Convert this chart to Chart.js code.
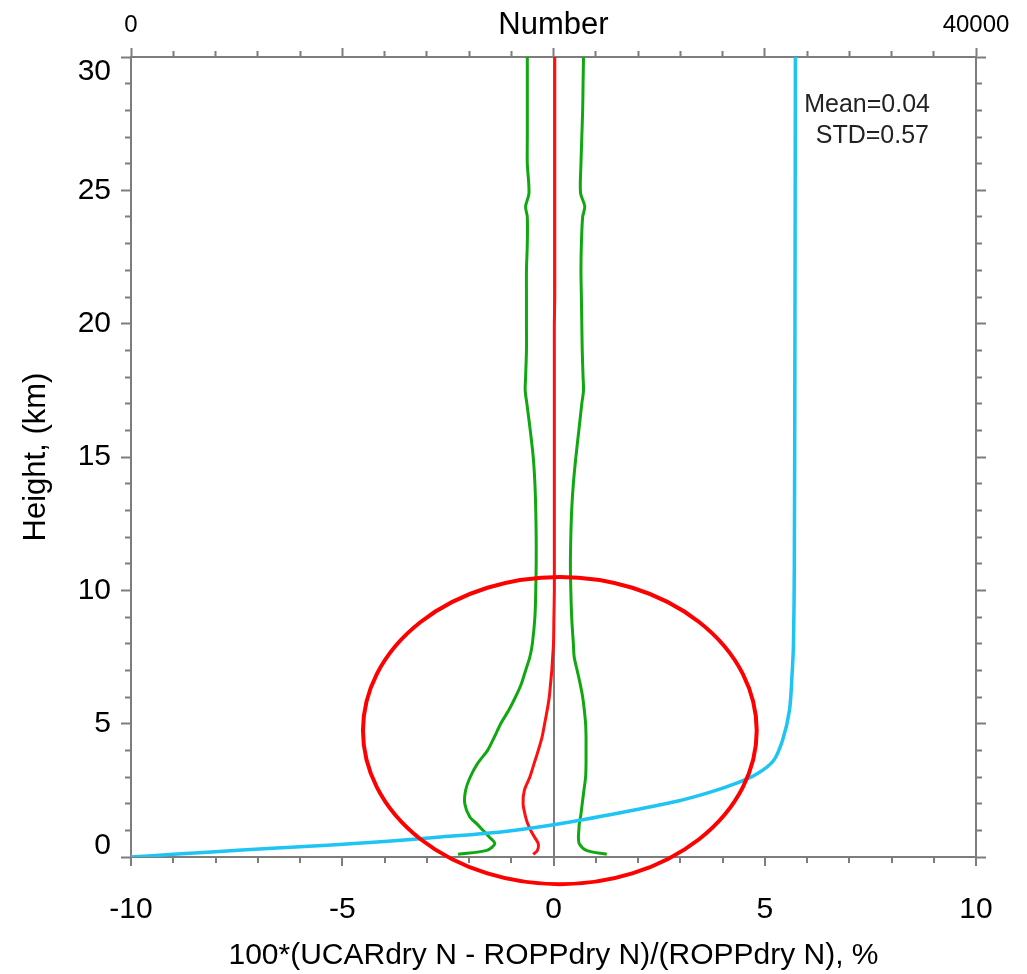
<!DOCTYPE html>
<html>
<head>
<meta charset="utf-8">
<title>UCARdry N - ROPPdry N</title>
<script src="https://cdn.jsdelivr.net/npm/chart.js@4.4.0/dist/chart.umd.min.js"></script>
<style>
  html, body { margin: 0; padding: 0; background: #fff; }
  #wrap { width: 1027px; height: 974px; }
</style>
</head>
<body>
<div id="wrap"><canvas id="profile-chart"></canvas></div>
<script>
// heights (km) used by the mean / std profiles
const heights = [0.1, 0.25, 0.5, 0.75, 1.0, 1.25, 1.5, 2.0, 2.5, 3.0, 3.5, 4.0, 4.5, 5.0, 5.5, 6.0, 6.5, 7.0, 7.5, 8.0,
                 9.0, 10.0, 11.0, 12.0, 13.0, 14.0, 15.0, 16.0, 17.0, 17.5, 18.0, 19.0, 20.0, 21.0, 22.0, 23.0, 24.0, 24.4, 24.9,
                 26.0, 27.0, 28.0, 29.0, 30.0];
// mean difference, %
const meanDiff = [-0.48, -0.38, -0.36, -0.45, -0.54, -0.61, -0.66, -0.72, -0.69, -0.56, -0.46, -0.36, -0.27, -0.21, -0.15, -0.10, -0.07, -0.04, -0.02, 0.0,
                  0.01, 0.02, 0.02, 0.02, 0.02, 0.02, 0.02, 0.02, 0.02, 0.02, 0.02, 0.02, 0.02, 0.03, 0.03, 0.03, 0.03, 0.03, 0.03,
                  0.03, 0.03, 0.03, 0.03, 0.03];
// mean - std
const meanMinusStd = [-2.26, -1.58, -1.39, -1.52, -1.67, -1.82, -1.98, -2.10, -2.08, -1.97, -1.80, -1.56, -1.40, -1.25, -1.06, -0.90, -0.76, -0.66, -0.56, -0.50,
                      -0.44, -0.42, -0.41, -0.41, -0.42, -0.44, -0.48, -0.55, -0.63, -0.67, -0.66, -0.64, -0.64, -0.64, -0.64, -0.62, -0.62, -0.66, -0.58,
                      -0.62, -0.62, -0.62, -0.62, -0.62];
// mean + std
const meanPlusStd = [1.26, 0.78, 0.61, 0.59, 0.60, 0.61, 0.64, 0.68, 0.72, 0.76, 0.77, 0.77, 0.77, 0.76, 0.73, 0.69, 0.63, 0.56, 0.49, 0.47,
                     0.43, 0.41, 0.40, 0.41, 0.43, 0.47, 0.53, 0.60, 0.67, 0.71, 0.70, 0.68, 0.67, 0.66, 0.65, 0.66, 0.69, 0.74, 0.64,
                     0.65, 0.67, 0.69, 0.70, 0.71];

// number of samples vs height (top axis)
const countHeights = [0, 0.1, 0.2, 0.32, 0.45, 0.58, 0.74, 0.95, 1.25, 1.65, 2.1, 2.45, 2.78, 3.1, 3.6, 4.4, 5.5, 6.8, 8.0, 11, 20, 30];
const counts = [0, 2000, 4000, 6500, 9500, 12000, 14500, 17600, 20300, 23100, 25900, 27500, 28700, 29600, 30400, 30850, 31170, 31290, 31360, 31400, 31430, 31450];

const meanValue = 0.04;
const stdValue = 0.57;

// red ring drawn on the figure (data units)
const ringCenter = [0.15, 4.74];
const ringRadius = [4.66, 5.76];

const FONT = "'Liberation Sans', Arial, sans-serif";
const AXIS_GRAY = '#7d7d7d';

function toPoints(xs, ys) {
    return xs.map((v, i) => ({x: v, y: ys[i]}));
}

function isMajor(ctx, every) {
    return ctx.tick && Math.abs(ctx.tick.value % every) < 1e-9;
}

// short minor ticks: pattern depends on which end of the tick line touches the axis
function tickDash(every, startsAtAxis, skip) {
    return function(ctx) {
        if (isMajor(ctx, every)) return [];
        return startsAtAxis ? [5, 40] : [0, skip, 5, 40];
    };
}

const statsLabel = {
    id: 'statsLabel',
    afterDatasetsDraw(chart) {
        const ctx = chart.ctx, area = chart.chartArea;
        ctx.save();
        ctx.font = '25px ' + FONT;
        ctx.fillStyle = '#222';
        ctx.textAlign = 'right';
        ctx.textBaseline = 'alphabetic';
        ctx.fillText('Mean=' + meanValue.toFixed(2), area.right - 46, area.top + 55);
        ctx.fillText('STD=' + stdValue.toFixed(2), area.right - 47, area.top + 86);
        ctx.restore();
    }
};

const ring = {
    id: 'ring',
    afterDraw(chart) {
        const sx = chart.scales.x, sy = chart.scales.y;
        const cx = sx.getPixelForValue(ringCenter[0]);
        const cy = sy.getPixelForValue(ringCenter[1]);
        const rx = Math.abs(sx.getPixelForValue(ringCenter[0] + ringRadius[0]) - cx);
        const ry = Math.abs(sy.getPixelForValue(ringCenter[1] + ringRadius[1]) - cy);
        const ctx = chart.ctx;
        ctx.save();
        ctx.strokeStyle = '#ff0000';
        ctx.lineWidth = 4;
        ctx.beginPath();
        ctx.ellipse(cx, cy, rx, ry, 0, 0, Math.PI * 2);
        ctx.stroke();
        ctx.restore();
    }
};

var chart = new Chart(document.getElementById('profile-chart'), {
    type: 'scatter',
    data: {
        datasets: [
            { label: 'Number', data: toPoints(counts, countHeights), xAxisID: 'x2', yAxisID: 'y',
              borderColor: '#1ec4f4', borderWidth: 3.5, showLine: true, pointRadius: 0, tension: 0.3 },
            { label: 'Mean', data: toPoints(meanDiff, heights), xAxisID: 'x', yAxisID: 'y',
              borderColor: '#ff1010', borderWidth: 3, showLine: true, pointRadius: 0, tension: 0.3 },
            { label: 'Mean-STD', data: toPoints(meanMinusStd, heights), xAxisID: 'x', yAxisID: 'y',
              borderColor: '#10a810', borderWidth: 3, showLine: true, pointRadius: 0, tension: 0.3 },
            { label: 'Mean+STD', data: toPoints(meanPlusStd, heights), xAxisID: 'x', yAxisID: 'y',
              borderColor: '#10a810', borderWidth: 3, showLine: true, pointRadius: 0, tension: 0.3 }
        ]
    },
    options: {
        responsive: true,
        maintainAspectRatio: false,
        animation: false,
        layout: { padding: 0 },
        plugins: { legend: {display: false}, tooltip: {enabled: false} },
        scales: {
            x: {
                type: 'linear', position: 'bottom', min: -10, max: 10,
                afterFit: s => { s.height = 117; },
                border: { display: true, color: AXIS_GRAY, width: 2 },
                grid: {
                    drawOnChartArea: true, drawTicks: true, tickLength: 9,
                    color: c => (c.tick && c.tick.value === 0) ? AXIS_GRAY : 'rgba(0,0,0,0)',
                    lineWidth: 2, tickColor: AXIS_GRAY, tickWidth: 2,
                    tickBorderDash: tickDash(5, true, 0)
                },
                ticks: {
                    stepSize: 1, autoSkip: false, maxRotation: 0, padding: 26, color: '#000',
                    font: { family: FONT, size: 30 },
                    callback: v => (v % 5 === 0 ? String(v) : '')
                },
                title: {
                    display: true, text: '100*(UCARdry N - ROPPdry N)/(ROPPdry N), %',
                    color: '#000', font: { family: FONT, size: 30 }, padding: { top: 0, bottom: 0 }
                }
            },
            x2: {
                type: 'linear', position: 'top', min: 0, max: 40000,
                afterFit: s => { s.height = 57; },
                border: { display: true, color: AXIS_GRAY, width: 2 },
                grid: {
                    drawOnChartArea: false, drawTicks: true, tickLength: 9,
                    tickColor: AXIS_GRAY, tickWidth: 2,
                    tickBorderDash: tickDash(10000, false, 3)
                },
                ticks: {
                    stepSize: 2000, autoSkip: false, maxRotation: 0, padding: 8, color: '#000',
                    font: { family: FONT, size: 24 },
                    callback: v => ((v === 0 || v === 40000) ? String(v) : '')
                },
                title: {
                    display: true, text: 'Number', color: '#000',
                    font: { family: FONT, size: 31 }, padding: { top: 7, bottom: 0 }
                }
            },
            y: {
                type: 'linear', position: 'left', min: 0, max: 30,
                afterFit: s => { s.width = 131; },
                border: { display: true, color: AXIS_GRAY, width: 2 },
                grid: {
                    drawOnChartArea: false, drawTicks: true, tickLength: 10,
                    tickColor: AXIS_GRAY, tickWidth: 2,
                    tickBorderDash: tickDash(5, false, 4)
                },
                ticks: {
                    stepSize: 1, autoSkip: false, padding: 10, color: '#000',
                    // end labels sit inside the axis range
                    font: c => ({ family: FONT, size: 30,
                                  lineHeight: (c.tick && c.tick.value === 30) ? 0.97 : (c.tick && c.tick.value === 0) ? 0.74 : 1.2 }),
                    callback: v => {
                        if (v % 5 !== 0) return '';
                        if (v === 30) return ['', String(v)];
                        if (v === 0) return [String(v), ''];
                        return String(v);
                    }
                },
                title: {
                    display: true, text: 'Height, (km)', color: '#000',
                    font: { family: FONT, size: 31 }, padding: { top: 18, bottom: 0 }
                }
            },
            y2: {
                type: 'linear', position: 'right', min: 0, max: 30,
                afterFit: s => { s.width = 51; },
                border: { display: true, color: AXIS_GRAY, width: 2 },
                grid: {
                    drawOnChartArea: false, drawTicks: true, tickLength: 10,
                    tickColor: AXIS_GRAY, tickWidth: 2,
                    tickBorderDash: tickDash(5, true, 0)
                },
                ticks: { stepSize: 1, autoSkip: false, callback: () => '' }
            }
        }
    },
    plugins: [statsLabel, ring]
});
</script>
</body>
</html>
